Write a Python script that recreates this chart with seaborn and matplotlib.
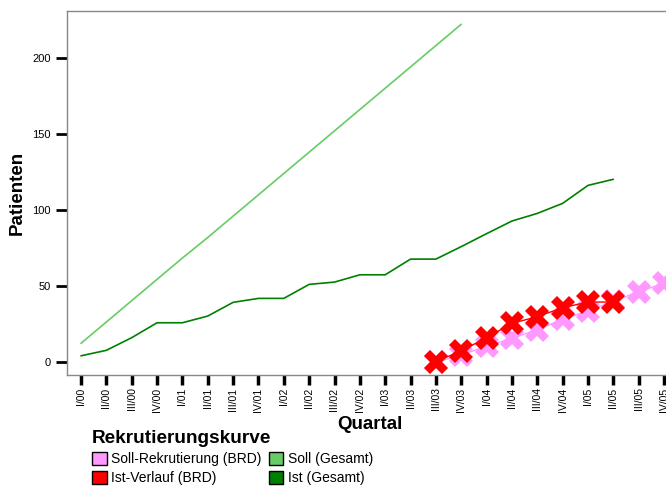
import pandas as pd
import matplotlib
matplotlib.use("Agg")
import matplotlib.pyplot as plt
import seaborn as sns
from matplotlib.patches import Patch

# --- DATA ---
QUARTERS = [f"{q}/{y:02d}" for y in range(0, 6) for q in ["I", "II", "III", "IV"]]

SOLL_GESAMT = [12.5, 26.5, 40.5, 54.5, 68.5, 82, 96, 110, 124, 138, 152, 166, 180, 194, 208, 222]
IST_GESAMT = [4.3, 7.9, 16.2, 26, 26, 30.4, 39.4, 42, 42, 51.2, 52.7, 57.5, 57.5, 67.8, 67.8,
              76, 84.5, 92.8, 97.8, 104.4, 116.2, 120.2]
SOLL_BRD_START = "III/03"
SOLL_BRD = [0, 4.8, 10.7, 15.7, 21.5, 28.2, 33.9, 40, 46.4, 51.9]
IST_BRD_START = "III/03"
IST_BRD = [0.4, 7.6, 16.2, 25.6, 30.0, 35.9, 39.6, 39.6]

COL_SOLL_BRD = "#ff99ff"
COL_IST_BRD = "#ff0000"
COL_SOLL_GES = "#66cc66"
COL_IST_GES = "#008000"


def series_frame(values, start):
    i0 = QUARTERS.index(start)
    return pd.DataFrame({"x": range(i0, i0 + len(values)), "y": values})


sns.set_theme(style="white")
plt.rcParams['font.family'] = ['Liberation Sans', 'DejaVu Sans']
plt.rcParams.update({"text.color": "black", "axes.labelcolor": "black",
                     "xtick.labelcolor": "black", "ytick.labelcolor": "black"})

fig = plt.figure(figsize=(6.66, 4.87), dpi=100)
ax = fig.add_axes([67 / 666, 112 / 487, (673 - 67) / 666, (375 - 11) / 487])

sns.lineplot(data=series_frame(SOLL_GESAMT, "I/00"), x="x", y="y", color=COL_SOLL_GES, lw=1.2, ax=ax)
sns.lineplot(data=series_frame(IST_GESAMT, "I/00"), x="x", y="y", color=COL_IST_GES, lw=1.2, ax=ax)
sns.lineplot(data=series_frame(SOLL_BRD, SOLL_BRD_START), x="x", y="y", color=COL_SOLL_BRD, lw=1,
             marker="X", markersize=17.5, markeredgewidth=0, ax=ax)
sns.lineplot(data=series_frame(IST_BRD, IST_BRD_START), x="x", y="y", color=COL_IST_BRD, lw=1,
             marker="X", markersize=17.5, markeredgewidth=0, ax=ax)

ax.set_xlim((67 - 81) / 25.35, (673 - 81) / 25.35)
ax.set_ylim(-8.3, 230.7)
ax.set_xticks(range(len(QUARTERS)))
ax.set_xticklabels(QUARTERS, rotation=90, fontsize=7.5)
ax.set_yticks([0, 50, 100, 150, 200])
ax.tick_params(axis="y", labelsize=8, length=8, width=2, color="black", direction="out", left=True)
ax.tick_params(axis="x", length=7, width=2.5, color="black", direction="out", bottom=True, pad=2)
for side in ["left", "top", "bottom"]:
    ax.spines[side].set_color("#888888")
    ax.spines[side].set_linewidth(1)
ax.spines["right"].set_visible(False)

ax.set_xlabel("Quartal", fontsize=13.5, fontweight="bold", labelpad=3)
ax.set_ylabel("Patienten", fontsize=13.5, fontweight="bold", labelpad=5)

handles = [
    Patch(facecolor=COL_SOLL_BRD, edgecolor="black", label="Soll-Rekrutierung (BRD)"),
    Patch(facecolor=COL_IST_BRD, edgecolor="black", label="Ist-Verlauf (BRD)"),
    Patch(facecolor=COL_SOLL_GES, edgecolor="black", label="Soll (Gesamt)"),
    Patch(facecolor=COL_IST_GES, edgecolor="black", label="Ist (Gesamt)"),
]
leg = fig.legend(handles=handles, ncol=2, loc="upper left", bbox_to_anchor=(92 / 666, 1 - 430 / 487),
                 frameon=False, fontsize=10, title="Rekrutierungskurve", alignment="left",
                 handlelength=1.05, handleheight=1.05, handletextpad=0.35, columnspacing=0.5,
                 labelspacing=0.35, borderpad=0, borderaxespad=0)
leg.get_title().set_fontweight("bold")
leg.get_title().set_fontsize(13.7)

fig.savefig("out.png", dpi=100)
